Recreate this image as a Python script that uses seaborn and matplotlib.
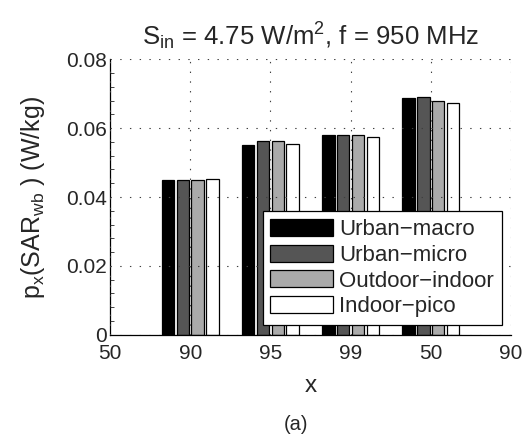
import matplotlib
matplotlib.use("Agg")
import matplotlib.pyplot as plt
import numpy as np
import pandas as pd
import seaborn as sns
from matplotlib.ticker import MultipleLocator

sns.set_theme(style="white")
plt.rcParams['font.family'] = ['Liberation Sans', 'DejaVu Sans']
plt.rcParams['mathtext.default'] = 'regular'
plt.rcParams['lines.scale_dashes'] = False

# data
positions = [1, 2, 3, 4]
scenarios = ["Urban−macro", "Urban−micro", "Outdoor−indoor", "Indoor−pico"]
urban_macro = [0.0450, 0.0551, 0.0581, 0.0687]
urban_micro = [0.0450, 0.0564, 0.0581, 0.0690]
outdoor_indoor = [0.0449, 0.0564, 0.0579, 0.0679]
indoor_pico = [0.0452, 0.0554, 0.0573, 0.0674]
tick_labels = ["50", "90", "95", "99", "50", "90"]
colors = ["black", "#555555", "#aaaaaa", "white"]

series = [urban_macro, urban_micro, outdoor_indoor, indoor_pico]
df = pd.DataFrame({
    "x": np.tile(positions, len(scenarios)),
    "scenario": np.repeat(scenarios, len(positions)),
    "value": np.concatenate(series),
})

fig = plt.figure(figsize=(5.32, 4.41), dpi=100)
ax = fig.add_axes([0.2068, 0.241, 0.7537, 0.6245])

sns.barplot(data=df, x="x", y="value", hue="scenario", hue_order=scenarios,
            palette=colors, native_scale=True, width=0.736, gap=0.16,
            edgecolor="black", linewidth=0.9, saturation=1, ax=ax)

ax.set_xlim(0, 5)
ax.set_ylim(0, 0.08)
ax.set_xticks(range(6))
ax.set_xticklabels(tick_labels)
ax.set_yticks([0, 0.02, 0.04, 0.06, 0.08])
ax.set_yticklabels(["0", "0.02", "0.04", "0.06", "0.08"])
ax.yaxis.set_minor_locator(MultipleLocator(0.004))
ax.tick_params(axis="both", which="major", direction="in", length=5,
               width=0.8, labelsize=15, color="black", pad=2)
ax.tick_params(axis="x", which="major", pad=7)
ax.tick_params(axis="y", which="minor", direction="in", length=3,
               width=0.6, left=True)

ax.set_axisbelow(False)
ax.grid(True, which="major", linestyle=(0, (1, 6)), color="0.25", linewidth=0.8)
for side in ["top", "right"]:
    ax.spines[side].set_visible(False)
for side in ["left", "bottom"]:
    ax.spines[side].set_color("black")
    ax.spines[side].set_linewidth(0.9)

ax.set_title(r"S$_{in}$ = 4.75 W/m$^2$, f = 950 MHz", fontsize=18.5, pad=10)
ax.set_xlabel("x", fontsize=17.5, labelpad=8)
ax.set_ylabel(r"p$_x$(SAR$_{wb}$ ) (W/kg)", fontsize=18, labelpad=14)
fig.text(0.556, 0.015, "(a)", ha="center", va="bottom", fontsize=14.5)

leg = ax.legend(loc="lower right", bbox_to_anchor=(0.977, 0.035),
                borderaxespad=0, fontsize=16, frameon=True, fancybox=False,
                framealpha=1, edgecolor="black", handlelength=2.8,
                handleheight=0.8, handletextpad=0.3, labelspacing=0.2,
                borderpad=0.35)
leg.get_frame().set_linewidth(0.9)

fig.savefig("out.png", dpi=100)
